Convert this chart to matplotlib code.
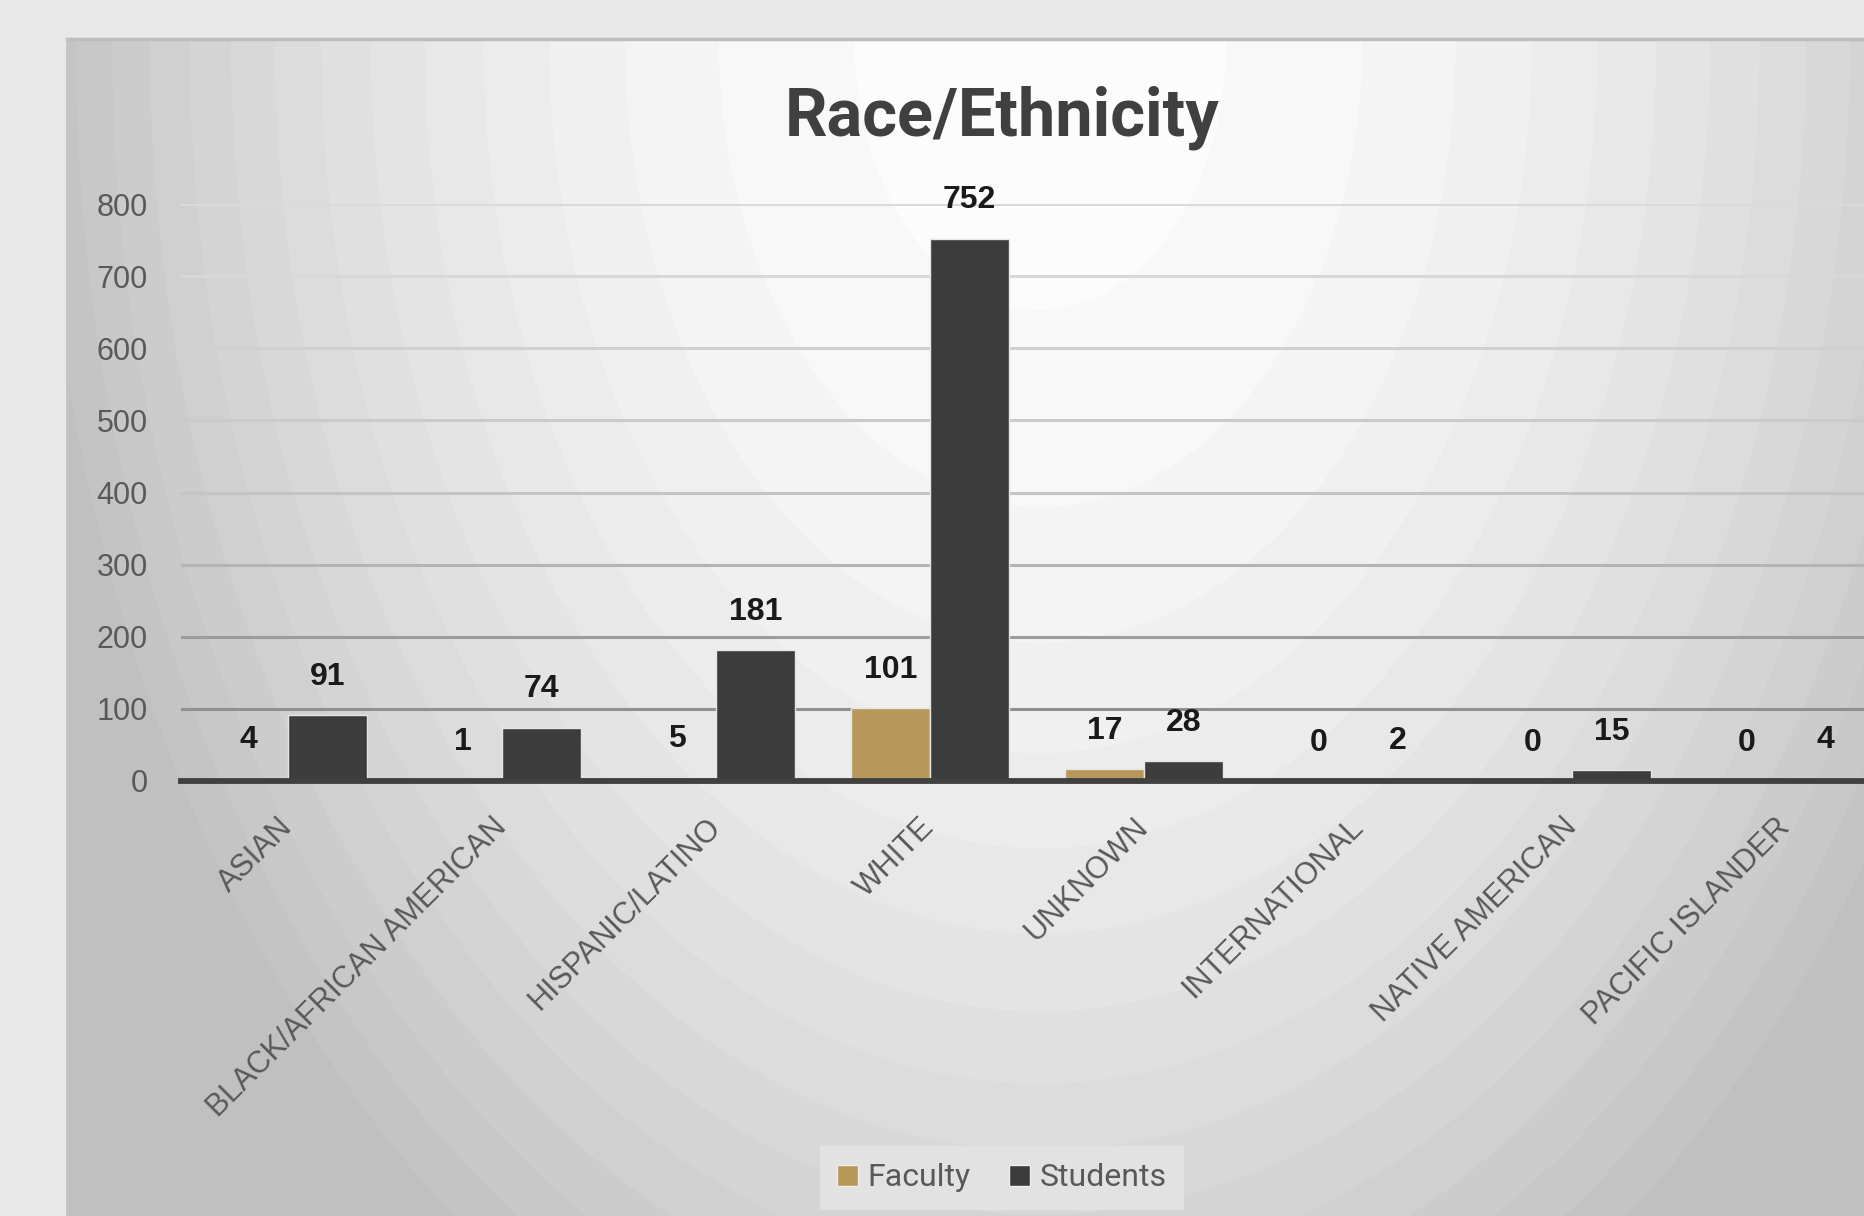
import numpy as np
import matplotlib
matplotlib.use("Agg")
import matplotlib.pyplot as plt
from matplotlib.patches import Patch

categories = ["ASIAN", "BLACK/AFRICAN AMERICAN", "HISPANIC/LATINO", "WHITE",
              "UNKNOWN", "INTERNATIONAL", "NATIVE AMERICAN", "PACIFIC ISLANDER"]
faculty = [4, 1, 5, 101, 17, 0, 0, 0]
students = [91, 74, 181, 752, 28, 2, 15, 4]
y_ticks = [0, 100, 200, 300, 400, 500, 600, 700, 800]

W, H = 1864, 1216
FACULTY_COLOR = "#b8985a"
STUDENT_COLOR = "#3c3c3c"
TEXT_COLOR = "#595959"

fig = plt.figure(figsize=(W / 100, H / 100), dpi=100)
fig.patch.set_facecolor("#e8e8e8")

# radial gradient background of the chart area (banded like the original)
frame_x, frame_y = 67, 39
yy, xx = np.mgrid[0:H, 0:W]
r2 = ((xx - 1040) / 1000.0) ** 2 + ((yy - 40) / 1450.0) ** 2
shade = np.clip(252 - 58 * r2, 194, 252)
shade = np.round(shade / 4) * 4
shade[(xx < frame_x) | (yy < frame_y)] = 232
img = np.dstack([shade, shade, shade]) / 255.0

bg = fig.add_axes([0, 0, 1, 1], zorder=-1)
bg.imshow(img, extent=[0, W, H, 0], aspect="auto", interpolation="nearest")
bg.set_xlim(0, W)
bg.set_ylim(H, 0)
bg.axis("off")
bg.plot([frame_x, W], [frame_y, frame_y], color="#bdbdbd", lw=2.5)
bg.plot([frame_x, frame_x], [frame_y, H], color="#c4c4c4", lw=2.0)

# main plot area (runs off the right edge, as in the screenshot)
left, right, zero_y, top_y = 181, 1893, 781, 204
ax = fig.add_axes([left / W, (H - zero_y) / H, (right - left) / W, (zero_y - top_y) / H])
ax.set_facecolor("none")

x = np.arange(len(categories))
bw = 0.37
grid_colors = ["#909090", "#9c9c9c", "#b4b4b4", "#c4c4c4",
               "#cacaca", "#d0d0d0", "#d8d8d8", "#dadada"]
for val, col in zip(y_ticks[1:], grid_colors):
    ax.axhline(val, color=col, lw=2.2, zorder=1)

fb = ax.bar(x - bw / 2, faculty, bw, color=FACULTY_COLOR, edgecolor="#e6e6e6",
            linewidth=1.0, zorder=2)
sb = ax.bar(x + bw / 2, students, bw, color=STUDENT_COLOR, edgecolor="#e6e6e6",
            linewidth=1.0, zorder=2)
ax.axhline(0, color="#404040", lw=4.2, zorder=3, clip_on=False)

for bars, vals in ((fb, faculty), (sb, students)):
    for b, v in zip(bars, vals):
        ax.annotate(str(v), (b.get_x() + b.get_width() / 2, v),
                    xytext=(0, 27.5), textcoords="offset points",
                    ha="center", va="center", fontsize=23, fontweight="bold",
                    family="Liberation Sans", color="#1a1a1a", annotation_clip=False)

ax.set_xlim(-0.5, len(categories) - 0.5)
ax.set_ylim(0, 800)
ax.set_yticks(y_ticks)
ax.set_yticklabels([str(t) for t in y_ticks], family="Liberation Sans",
                   fontsize=22, color=TEXT_COLOR)
ax.set_xticks(x)
ax.set_xticklabels(categories, rotation=45, ha="right", va="center",
                   rotation_mode="anchor", family="Liberation Sans",
                   fontsize=22, color=TEXT_COLOR)
ax.tick_params(axis="y", length=0, pad=24)
ax.tick_params(axis="x", length=0, pad=30)
for s in ax.spines.values():
    s.set_visible(False)

fig.text(1002 / W, 1 - 118 / H, "Race/Ethnicity", ha="center", va="center",
         fontsize=48, fontweight="bold", family="Roboto", color="#404040")

handles = [Patch(facecolor=FACULTY_COLOR, edgecolor="#eeeeee", label="Faculty"),
           Patch(facecolor=STUDENT_COLOR, edgecolor="#eeeeee", label="Students")]
leg = fig.legend(handles=handles, loc="center", ncol=2,
                 bbox_to_anchor=(1002 / W, 1 - 1178 / H),
                 prop={"family": "Roboto", "size": 23}, labelcolor=TEXT_COLOR,
                 handlelength=0.65, handleheight=0.65, handletextpad=0.3,
                 columnspacing=1.2, borderpad=0.55, fancybox=False,
                 facecolor="#e2e2e2", edgecolor="none", framealpha=1)

fig.savefig("out.png", dpi=100)
